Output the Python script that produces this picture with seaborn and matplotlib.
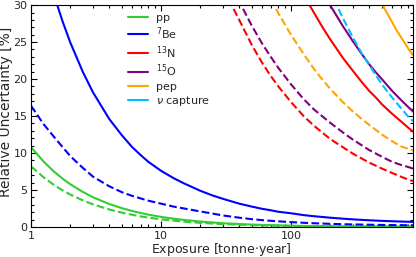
import pandas as pd
import matplotlib
matplotlib.use("Agg")
import matplotlib.pyplot as plt
import matplotlib.ticker as mticker
from matplotlib.lines import Line2D
import seaborn as sns

# Exposure grid [tonne*year] used for the low-energy curves (pp, 7Be)
exp_low = [1, 1.25, 1.5, 1.75, 2, 2.5, 3, 4, 5, 6, 7, 8, 10, 12.5, 15, 20, 25, 30,
           40, 50, 60, 70, 80, 100, 125, 150, 200, 250, 300, 400, 500, 600, 700, 870]

pp_solid = [10.8, 8.84, 7.5, 6.53, 5.79, 4.74, 4.01, 3.10, 2.54, 2.16, 1.88, 1.66, 1.36,
            1.11, 0.95, 0.73, 0.60, 0.50, 0.39, 0.32, 0.27, 0.24, 0.21, 0.17, 0.14, 0.12,
            0.09, 0.075, 0.064, 0.049, 0.04, 0.034, 0.03, 0.024]
pp_dash = [8.2, 6.71, 5.69, 4.95, 4.39, 3.6, 3.05, 2.36, 1.93, 1.64, 1.42, 1.26, 1.03,
           0.85, 0.72, 0.55, 0.45, 0.38, 0.3, 0.24, 0.21, 0.18, 0.16, 0.13, 0.11, 0.09,
           0.07, 0.057, 0.048, 0.037, 0.03, 0.026, 0.023, 0.019]
be7_solid = [43, 36.6, 31.4, 27.8, 25.0, 21.0, 18.2, 14.6, 12.4, 10.8, 9.7, 8.8, 7.6,
             6.6, 5.9, 4.9, 4.25, 3.8, 3.15, 2.75, 2.45, 2.25, 2.05, 1.85, 1.6, 1.45,
             1.25, 1.12, 1.02, 0.9, 0.82, 0.77, 0.73, 0.68]
be7_dash = [16.4, 13.9, 12.2, 10.8, 9.6, 8.0, 6.8, 5.5, 4.7, 4.2, 3.85, 3.55, 3.15,
            2.75, 2.5, 2.1, 1.8, 1.55, 1.25, 1.05, 0.92, 0.83, 0.76, 0.65, 0.56, 0.5,
            0.42, 0.37, 0.34, 0.3, 0.27, 0.25, 0.24, 0.22]

exp_n13 = [100, 125, 139, 150, 175, 200, 250, 300, 350, 400, 450, 500, 600, 700, 800, 870]
n13_solid = [34.9, 31.5, 30.0, 29.0, 27.0, 25.4, 22.9, 21.1, 19.6, 18.4, 17.5, 16.6,
             15.3, 14.3, 13.4, 12.9]
exp_mid = [30, 35, 40, 50, 60, 70, 80, 100, 125, 150, 200, 250, 300, 400, 500, 600,
           700, 800, 870]
n13_dash = [32.5, 30.0, 28.0, 24.6, 22.2, 20.4, 19.0, 16.9, 15.0, 13.7, 11.9, 10.8, 9.9,
            8.7, 7.9, 7.3, 6.8, 6.4, 6.2]
o15_dash = [35.0, 32.5, 30.5, 27.2, 24.8, 23.0, 21.5, 19.3, 17.3, 15.9, 14.1, 12.8, 11.8,
            10.4, 9.5, 8.8, 8.4, 8.1, 7.9]

exp_o15 = [150, 175, 200, 250, 300, 350, 400, 450, 500, 600, 700, 800, 870]
o15_solid = [34.0, 31.9, 30.0, 27.2, 25.1, 23.4, 22.0, 20.9, 20.0, 18.4, 17.2, 16.2, 15.6]

exp_pep = [450, 507, 550, 600, 650, 700, 750, 800, 870]
pep_solid = [31.8, 30.0, 28.9, 27.7, 26.6, 25.7, 24.9, 24.1, 23.2]
exp_pepd = [70, 80, 100, 125, 150, 175, 200, 250, 300, 350, 400, 500, 600, 700, 800, 870]
pep_dash = [30.8, 28.9, 26.0, 23.4, 21.4, 19.9, 18.7, 16.9, 15.6, 14.6, 13.8, 12.5,
            11.6, 10.9, 10.55, 10.35]

exp_nu = [200, 225, 250, 300, 350, 400, 450, 500, 600, 700, 800, 870]
nu_dash = [32.0, 30.0, 28.3, 25.6, 23.5, 21.9, 20.5, 19.3, 17.5, 16.1, 14.9, 14.3]

labels = ["pp", "$^7$Be", "$^{13}$N", "$^{15}$O", "pep", r"$\nu$ capture"]
colors = ["#33cc33", "#0000ff", "#ff0000", "#800080", "#ffa500", "#00bfff"]

curves = [
    (exp_low, pp_solid, 0, "-"), (exp_low, pp_dash, 0, "--"),
    (exp_low, be7_solid, 1, "-"), (exp_low, be7_dash, 1, "--"),
    (exp_n13, n13_solid, 2, "-"), (exp_mid, n13_dash, 2, "--"),
    (exp_o15, o15_solid, 3, "-"), (exp_mid, o15_dash, 3, "--"),
    (exp_pep, pep_solid, 4, "-"), (exp_pepd, pep_dash, 4, "--"),
    (exp_nu, nu_dash, 5, "--"),
]

sns.set_style("ticks")
plt.rcParams["font.family"] = ["DejaVu Sans"]
plt.rcParams["mathtext.fontset"] = "dejavusans"

fig, ax = plt.subplots(figsize=(4.16, 2.57), dpi=100)
fig.subplots_adjust(left=0.0745, right=0.993, top=0.98, bottom=0.117)

for x, y, ci, ls in curves:
    df = pd.DataFrame({"exposure": x, "unc": y})
    sns.lineplot(data=df, x="exposure", y="unc", ax=ax, color=colors[ci],
                 linestyle=ls, linewidth=1.5, legend=False)

ax.set_xscale("log")
ax.set_xlim(1, 870)
ax.set_ylim(0, 30)
ax.xaxis.set_major_formatter(mticker.FuncFormatter(lambda v, p: f"{v:g}"))
ax.yaxis.set_major_locator(mticker.MultipleLocator(5))
ax.yaxis.set_minor_locator(mticker.MultipleLocator(1))
ax.tick_params(which="both", direction="in", top=True, right=True, labelsize=8,
               color="black", width=0.8)
ax.tick_params(which="major", length=4.5)
ax.tick_params(which="minor", length=2.5)
ax.tick_params(axis="y", pad=2.5)
ax.tick_params(axis="x", pad=3)
for s in ax.spines.values():
    s.set_color("black")
    s.set_linewidth(0.8)

ax.set_xlabel("Exposure [tonne$\\cdot$year]", fontsize=9, va="top")
ax.xaxis.set_label_coords(0.497, -0.062)
ax.set_ylabel("Relative Uncertainty [%]", fontsize=10)
ax.yaxis.set_label_coords(-0.046, 0.52)

handles = [Line2D([0], [0], color=c, lw=1.5) for c in colors]
ax.legend(handles, labels, loc="upper left", bbox_to_anchor=(0.254, 0.965),
          frameon=False, fontsize=8, handlelength=1.8, labelspacing=0.2,
          handletextpad=0.7, borderpad=0, borderaxespad=0)

fig.savefig("out.png", dpi=100)
